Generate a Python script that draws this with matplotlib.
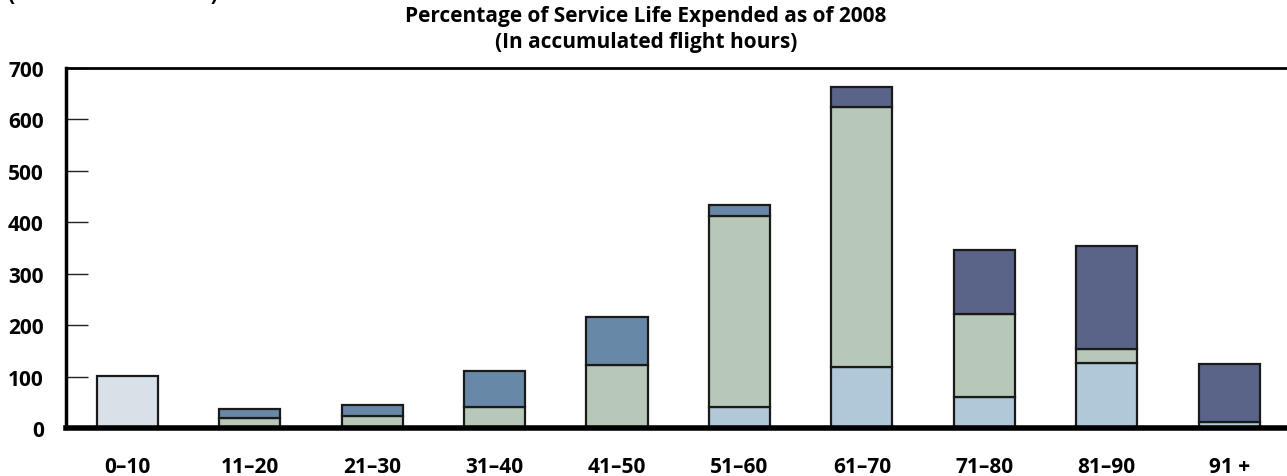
import numpy as np
from matplotlib import pyplot as plt

# categories (percentage of service life expended)
categories = ['0–10', '11–20', '21–30', '31–40', '41–50',
              '51–60', '61–70', '71–80', '81–90', '91 +']

# number of aircraft per segment
pale = [101, 0, 0, 0, 0, 0, 0, 0, 0, 0]
light_blue = [0, 0, 0, 0, 0, 40, 119, 60, 126, 11]
sage = [0, 19, 24, 40, 122, 373, 506, 162, 28, 0]
steel = [0, 17, 21, 70, 94, 21, 0, 0, 0, 0]
dark = [0, 0, 0, 0, 0, 0, 38, 124, 200, 113]

yticks = [0, 100, 200, 300, 400, 500, 600, 700]

series = [(pale, '#d8e0e8'), (light_blue, '#b0c8d8'), (sage, '#b8c8b8'),
          (steel, '#6888a8'), (dark, '#5a6488')]

plt.rcParams['font.family'] = ['Open Sans', 'DejaVu Sans']
plt.rcParams['font.weight'] = 'bold'

fig = plt.figure(figsize=(12.87, 4.77), dpi=100)
ax = fig.add_axes([66 / 1287, 1 - 429 / 477, 1 - 66 / 1287, (429 - 69) / 477])

x = np.arange(len(categories))
bottom = np.zeros(len(categories))
for vals, col in series:
    vals = np.array(vals, dtype=float)
    m = vals > 0
    ax.bar(x[m], vals[m], width=0.5, bottom=bottom[m], color=col,
           edgecolor='#1a1a1a', linewidth=1.6, zorder=2)
    bottom += vals

ax.set_xlim(-0.502, 9.473)
ax.set_ylim(0, 700)
ax.set_yticks(yticks)
ax.set_xticks(x)
ax.set_xticklabels(categories, fontsize=15, fontweight='bold')
ax.set_yticklabels([str(v) for v in yticks], fontsize=15, fontweight='bold')
ax.tick_params(axis='y', direction='in', length=16, width=1, pad=16, color='#222222')
ax.tick_params(axis='x', length=0, pad=20)

ax.spines['right'].set_visible(False)
ax.spines['top'].set_linewidth(2)
ax.spines['left'].set_linewidth(2.5)
ax.spines['bottom'].set_linewidth(4)
for s in ax.spines.values():
    s.set_color('black')
    s.set_zorder(3)

fig.text(646 / 1287, 1 - 6 / 477,
         'Percentage of Service Life Expended as of 2008\n(In accumulated flight hours)',
         ha='center', va='top', fontsize=15, fontweight='bold', linespacing=1.3)
fig.text(8 / 1287, 1.0, '(Number of aircraft)', ha='left', va='baseline',
         fontsize=15, fontweight='bold')

fig.savefig('out.png', dpi=100)
